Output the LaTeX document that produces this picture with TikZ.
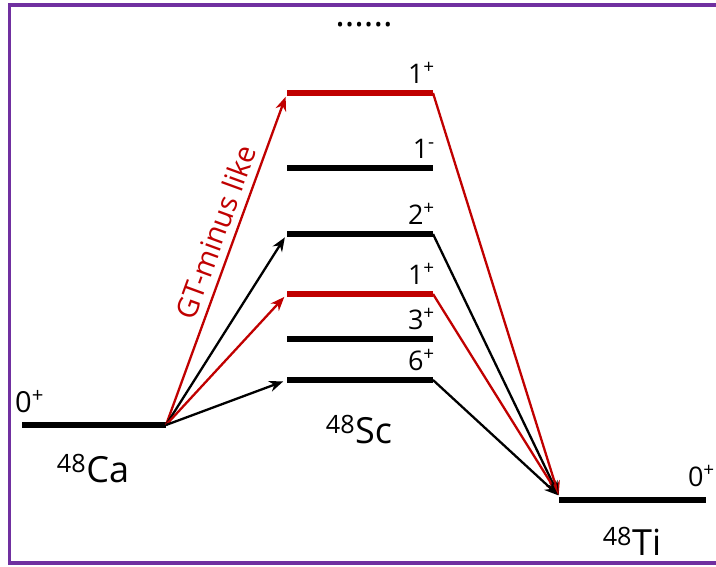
\documentclass[tikz,border=0pt]{standalone}
\usepackage{fontspec}
\setmainfont{Open Sans}
\usetikzlibrary{arrows.meta}
\definecolor{lvred}{RGB}{192,0,0}
\definecolor{boxpurple}{RGB}{112,48,160}
\tikzset{
  level/.style={line width=6pt},
  trans/.style={line width=2.3pt,-{Stealth[length=14pt,width=11pt,inset=4.5pt]},shorten >=4pt},
  spin/.style={font=\fontsize{27}{27}\selectfont,inner sep=0pt},
  nucl/.style={font=\fontsize{36}{36}\selectfont,inner sep=0pt}
}

\begin{document}
\begin{tikzpicture}[x=1pt,y=-1pt]%double beta levels
\useasboundingbox (0,0) rectangle (716,566);
\clip (0,0) rectangle (716,566);
\draw [boxpurple,line width=3.5pt] (9.5,5) rectangle (740,563);

% 48Ca
\coordinate (caL) at (22,425);
\coordinate (caR) at (166,425);
\draw [level] (caL) -- (caR);
\node [spin,font=\fontsize{29}{29}\selectfont,anchor=base west] (ca0) at (15,412) {0\textsuperscript{+}};
\node [nucl,anchor=base] (ca) at (93,482) {\textsuperscript{48}Ca};

% 48Sc
\foreach \n/\y/\j/\s/\c in {a/93/1/+/lvred, b/168/1/-/black, c/234/2/+/black,
  d/294/1/+/lvred, e/339/3/+/black, f/380/6/+/black} {
\coordinate (sc\n L) at (287,\y);
\coordinate (sc\n R) at (433,\y);
\draw [level,\c] (sc\n L) -- (sc\n R);
\node [spin,anchor=base east] (lab\n) at (435,\y-10) {\j\textsuperscript{\s}};}
\node [nucl,anchor=base] (sc) at (359,443) {\textsuperscript{48}Sc};
\node [inner sep=0pt,font=\fontsize{36}{36}\selectfont,anchor=base] (dots) at (364,26) {......};

% 48Ti
\coordinate (tiL) at (559,500);
\coordinate (tiR) at (706,500);
\coordinate (tiin) at (559,496);
\draw [level] (tiL) -- (tiR);
\node [spin,anchor=base east] (ti0) at (715,486) {0\textsuperscript{+}};
\node [nucl,anchor=base] (ti) at (632,555) {\textsuperscript{48}Ti};

% Ca -> Sc
\draw [trans,lvred] (caR) -- (scaL)
  node [pos=0.56,sloped,above=7pt,font=\fontsize{29}{29}\selectfont,inner sep=0pt] (gt) {GT-minus like};
\draw [trans] (caR) -- (sccL);
\draw [trans,lvred] (caR) -- (scdL);
\draw [trans] (caR) -- (scfL);

% Sc -> Ti
\draw [trans,lvred,shorten >=1pt] (scaR) -- (tiin);
\draw [trans,shorten >=1pt] (sccR) -- (tiin);
\draw [trans,lvred,shorten >=1pt] (scdR) -- (tiin);
\draw [trans,shorten >=1pt] (scfR) -- (tiin);
\end{tikzpicture}
\end{document}
